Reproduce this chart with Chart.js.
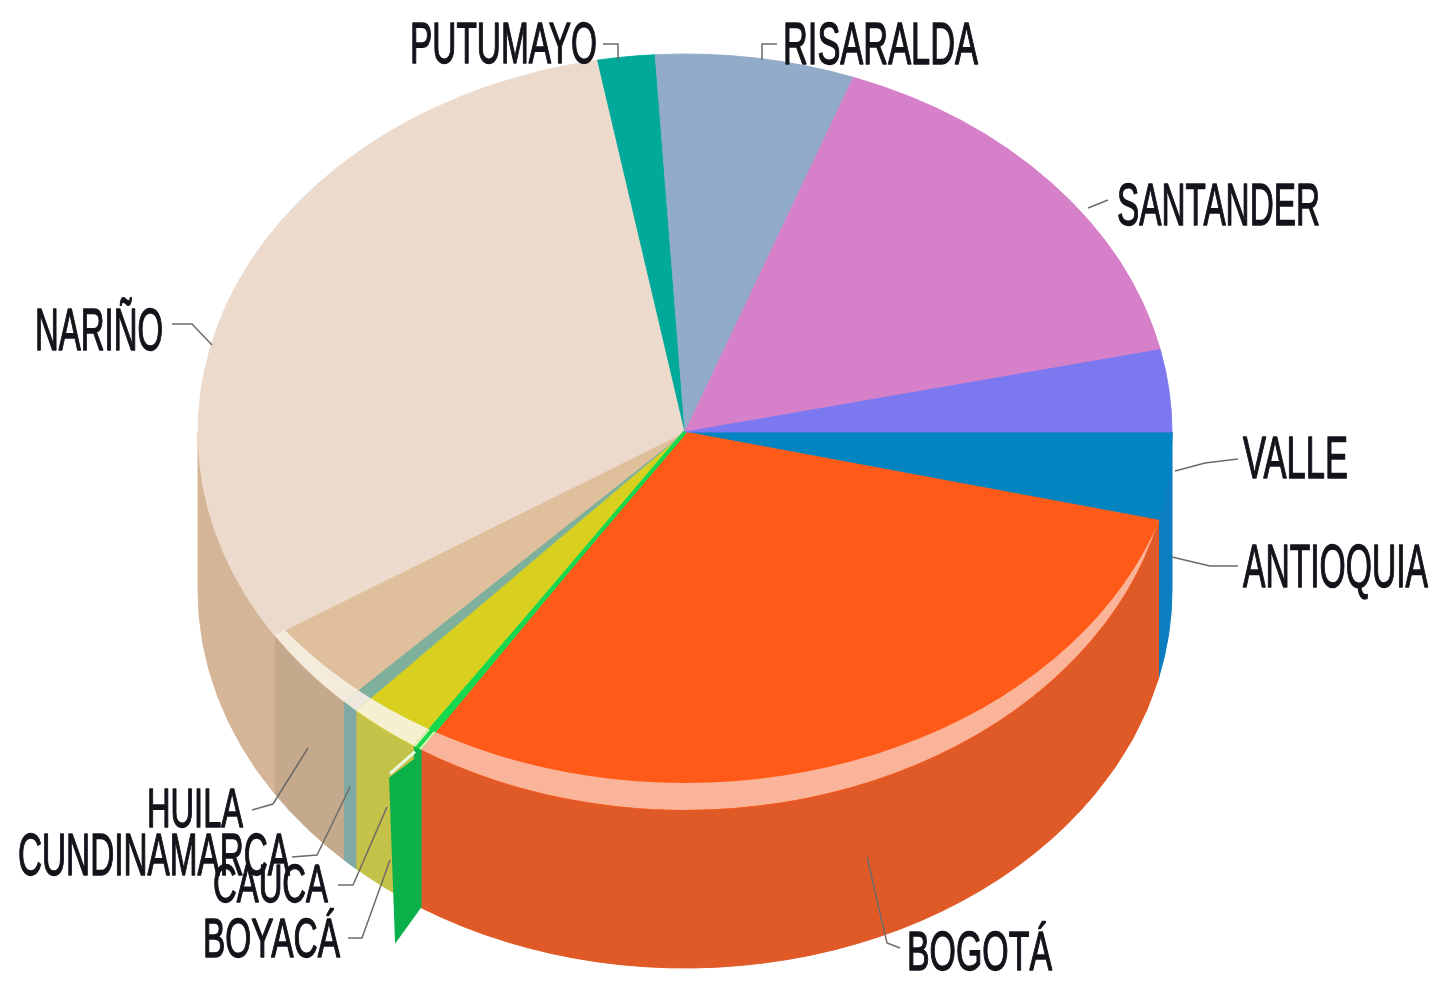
<!DOCTYPE html>
<html>
<head>
<meta charset="utf-8">
<title>Pie</title>
<script src="https://cdn.jsdelivr.net/npm/chart.js@4"></script>
<style>
  body { margin: 0; background: #fff; }
  canvas { display: block; filter: blur(0.7px); }
</style>
</head>
<body>
<canvas id="pieChart" width="1440" height="991"></canvas>
<script>
// percent share per department, clockwise from 3 o'clock
var categories = ['ANTIOQUIA', 'BOGOTÁ', 'BOYACÁ', 'CAUCA', 'CUNDINAMARCA', 'HUILA', 'NARIÑO', 'PUTUMAYO', 'RISARALDA', 'SANTANDER', 'VALLE'];
var shares = [3.75, 30.4, 0.3, 2.4, 0.55, 3.6, 31.2, 1.9, 6.6, 15.9, 3.5];

var topColors = ['#0284c0', '#ff5a17', '#16d84e', '#d9cf1e', '#7fb09c', '#dfbf9c', '#ecdacc', '#00a99a', '#92abc9', '#d580c8', '#7b78f0'];
var wallColors = ['#0a7ebf', '#e05a28', '#0bb048', '#c5c24a', '#7fa9a5', '#c4a98c', '#d4b598', '#00a99a', '#92abc9', '#d580c8', '#6e6ef0'];
var bandColors = [null, '#f9b49a', '#d8f0b0', '#f5f0d0', '#eee8dc', '#f5ebdd', null, null, null, null, null];

// label boxes: left, right, cap top, baseline
var labelBoxes = {
    'PUTUMAYO': [410, 597, 22, 63],
    'RISARALDA': [783, 978, 22, 64],
    'SANTANDER': [1117, 1320, 182, 225],
    'VALLE': [1243, 1348, 435, 478],
    'ANTIOQUIA': [1243, 1428, 543, 587],
    'NARIÑO': [35, 163, 308, 350],
    'HUILA': [147, 243, 787, 827],
    'CUNDINAMARCA': [18, 290, 833, 875],
    'CAUCA': [213, 328, 863, 902],
    'BOYACÁ': [203, 340, 917, 957],
    'BOGOTÁ': [907, 1052, 930, 970]
};

var leaders = {
    'PUTUMAYO': [[603, 44], [618, 44], [618, 60]],
    'RISARALDA': [[777, 44], [762, 44], [762, 60]],
    'SANTANDER': [[1088, 208], [1108, 200]],
    'VALLE': [[1175, 471], [1205, 463], [1238, 459]],
    'ANTIOQUIA': [[1172, 557], [1210, 566], [1238, 566]],
    'NARIÑO': [[172, 324], [192, 324], [212, 345]],
    'HUILA': [[252, 810], [273, 804], [308, 748]],
    'CUNDINAMARCA': [[292, 857], [317, 855], [350, 787]],
    'CAUCA': [[338, 885], [353, 885], [387, 807]],
    'BOYACÁ': [[348, 938], [362, 938], [390, 860]],
    'BOGOTÁ': [[900, 948], [887, 943], [867, 857]]
};

var squash = 378 / 487;
var wallDepth = 158;
var bandShift = 27;
var bandWiden = 11;
var boyacaIndex = categories.indexOf('BOYACÁ');

function outerEllipse(arc) {
    return { x: arc.x, y: arc.y, rx: arc.outerRadius, ry: arc.outerRadius * squash };
}

// tilted look: side walls first, then the library's own arcs squashed on top
var tiltPlugin = {
    id: 'tilt',
    beforeDatasetsDraw: function (chart) {
        var ctx = chart.ctx;
        var arcs = chart.getDatasetMeta(0).data;

        arcs.forEach(function (arc, i) {
            var e = outerEllipse(arc);
            var a0 = Math.max(arc.startAngle, 0);
            var a1 = Math.min(arc.endAngle, Math.PI);
            if (a1 <= a0) return;
            ctx.beginPath();
            ctx.ellipse(e.x, e.y, e.rx, e.ry, 0, a0, a1);
            ctx.ellipse(e.x, e.y + wallDepth, e.rx, e.ry, 0, a1, a0, true);
            ctx.closePath();
            ctx.fillStyle = wallColors[i];
            ctx.fill();
            ctx.strokeStyle = wallColors[i];
            ctx.lineWidth = 1;
            ctx.stroke();
        });

        var first = arcs[0];
        ctx.save();
        ctx.translate(first.x, first.y);
        ctx.scale(1, squash);
        ctx.translate(-first.x, -first.y);
    },
    afterDatasetsDraw: function (chart) {
        var ctx = chart.ctx;
        var arcs = chart.getDatasetMeta(0).data;
        ctx.restore();

        // pale bevel along the front rim, thin at the right, wide at the front
        arcs.forEach(function (arc, i) {
            if (!bandColors[i]) return;
            var e = outerEllipse(arc);
            ctx.save();
            ctx.beginPath();
            ctx.moveTo(e.x, e.y);
            ctx.ellipse(e.x, e.y, e.rx, e.ry, 0, arc.startAngle, arc.endAngle);
            ctx.closePath();
            ctx.clip();
            ctx.beginPath();
            ctx.ellipse(e.x, e.y, e.rx, e.ry, 0, 0, Math.PI * 2);
            ctx.ellipse(e.x, e.y - bandShift, e.rx + bandWiden, e.ry, 0, 0, Math.PI * 2);
            ctx.fillStyle = bandColors[i];
            ctx.fill('evenodd');
            ctx.restore();
        });

        // Boyacá is a thin bright strip on top, keep it visible to the centre
        var b = arcs[boyacaIndex];
        var e = outerEllipse(b);
        var mid = (b.startAngle + b.endAngle) / 2;
        ctx.beginPath();
        ctx.moveTo(e.x, e.y);
        ctx.lineTo(e.x + e.rx * Math.cos(mid), e.y + e.ry * Math.sin(mid));
        ctx.strokeStyle = topColors[boyacaIndex];
        ctx.lineWidth = 4;
        ctx.stroke();

        // cut face of the Boyacá slice, hanging from its rim point
        var px = e.x + e.rx * Math.cos(b.startAngle);
        var py = e.y + e.ry * Math.sin(b.startAngle);
        ctx.beginPath();
        ctx.moveTo(px, py + 4);
        ctx.lineTo(px - 32, py + 28);
        ctx.lineTo(px - 26, py + 194);
        ctx.lineTo(px, py + wallDepth);
        ctx.closePath();
        ctx.fillStyle = wallColors[boyacaIndex];
        ctx.fill();
        ctx.beginPath();
        ctx.moveTo(px - 6, py + 2);
        ctx.lineTo(px - 31, py + 24);
        ctx.strokeStyle = '#e8fbe0';
        ctx.lineWidth = 3;
        ctx.stroke();

        categories.forEach(function (name) {
            var pts = leaders[name];
            ctx.beginPath();
            ctx.moveTo(pts[0][0], pts[0][1]);
            pts.slice(1).forEach(function (p) { ctx.lineTo(p[0], p[1]); });
            ctx.strokeStyle = '#6f6a66';
            ctx.lineWidth = 1.5;
            ctx.stroke();
        });

        // condensed labels: squeeze a normal face into each box
        categories.forEach(function (name) {
            var box = labelBoxes[name];
            var capHeight = box[3] - box[2];
            ctx.save();
            ctx.font = (capHeight / 0.72) + 'px "Liberation Sans"';
            ctx.textBaseline = 'alphabetic';
            ctx.textAlign = 'left';
            var w = ctx.measureText(name).width;
            ctx.translate(box[0], box[3]);
            ctx.scale((box[1] - box[0]) / w, 1);
            ctx.fillStyle = '#15131a';
            ctx.strokeStyle = '#15131a';
            ctx.lineWidth = 1.4;
            ctx.lineJoin = 'round';
            ctx.fillText(name, 0, 0);
            ctx.strokeText(name, 0, 0);
            ctx.restore();
        });
    }
};

var pieChart = new Chart(document.getElementById('pieChart').getContext('2d'), {
    type: 'pie',
    data: {
        labels: categories,
        datasets: [{
            data: shares,
            backgroundColor: topColors,
            borderColor: topColors,
            borderWidth: 1
        }]
    },
    options: {
        responsive: false,
        animation: false,
        rotation: 90,
        radius: 487,
        layout: { padding: { right: 70, bottom: 127 } },
        plugins: {
            legend: { display: false },
            tooltip: { enabled: false }
        }
    },
    plugins: [tiltPlugin]
});
</script>
</body>
</html>
